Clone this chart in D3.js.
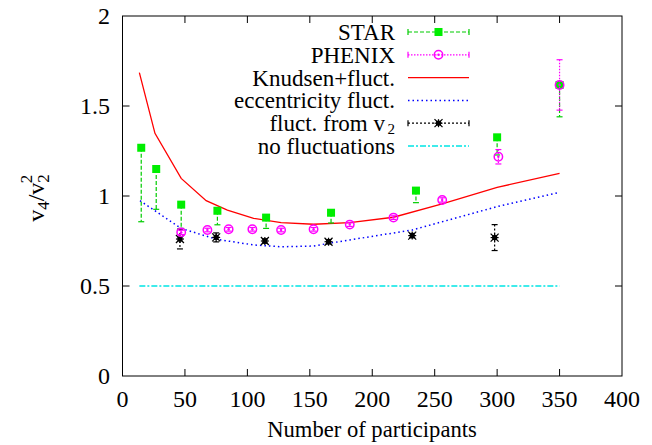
<!DOCTYPE html>
<html><head><meta charset="utf-8"><script src="https://cdn.jsdelivr.net/npm/d3@7/dist/d3.min.js"></script></head>
<body style="margin:0">
<script>
// STAR: value and lower end of the (one sided) error bar
const starN   = [15, 27, 47, 76, 115, 167, 235, 300, 350];
const starV   = [1.268, 1.15, 0.952, 0.918, 0.88, 0.907, 1.03, 1.326, 1.617];
const starLow = [0.857, 0.926, 0.82, 0.84, 0.82, 0.85, 0.963, 1.228, 1.44];

// PHENIX
const phenixN   = [47, 68, 85, 104, 127, 153, 182, 217, 256, 301, 350];
const phenixV   = [0.798, 0.811, 0.815, 0.815, 0.811, 0.815, 0.841, 0.88, 0.978, 1.218, 1.617];
const phenixErr = [0.012, 0.01, 0.01, 0.01, 0.01, 0.01, 0.01, 0.01, 0.012, 0.04, 0.14];

// fluct. from v2
const fromV2N   = [46, 75, 114, 165, 232, 298];
const fromV2V   = [0.761, 0.77, 0.75, 0.746, 0.78, 0.769];
const fromV2Err = [0.055, 0.025, 0.012, 0.012, 0.012, 0.072];

// Knudsen+fluct.
const knudsenN = [13.5, 26, 47, 67, 84, 105, 127, 153, 182, 217, 256, 300, 350];
const knudsenV = [1.685, 1.348, 1.098, 0.974, 0.922, 0.876, 0.852, 0.843, 0.852, 0.882, 0.956, 1.048, 1.126];

// eccentricity fluct.
const eccN = [14, 47, 75, 105, 127, 153, 165, 182, 232, 256, 300, 350];
const eccV = [0.974, 0.82, 0.76, 0.728, 0.718, 0.722, 0.737, 0.756, 0.811, 0.857, 0.941, 1.02];

// no fluctuations
const noFlN = [13.5, 350];
const noFlV = [0.5, 0.5];

const xTicks = [0, 50, 100, 150, 200, 250, 300, 350, 400];
const yTicks = [0, 0.5, 1, 1.5, 2];

const W = 652, H = 445;
const x = d3.scaleLinear().domain([0, 400]).range([122.5, 622]);
const y = d3.scaleLinear().domain([0, 2]).range([376, 16]);

const svg = d3.select("body").append("svg").attr("width", W).attr("height", H);

// frame
svg.append("rect")
  .attr("x", x(0)).attr("y", y(2))
  .attr("width", x(400) - x(0)).attr("height", y(0) - y(2))
  .attr("fill", "none").attr("stroke", "#000").attr("stroke-width", 1);

// ticks (inside, mirrored)
const tl = 7;
xTicks.forEach(t => {
  if (t === 0 || t === 400) return;
  svg.append("line").attr("x1", x(t)).attr("x2", x(t)).attr("y1", y(0)).attr("y2", y(0) - tl).attr("stroke", "#000");
  svg.append("line").attr("x1", x(t)).attr("x2", x(t)).attr("y1", y(2)).attr("y2", y(2) + tl).attr("stroke", "#000");
});
yTicks.forEach(t => {
  if (t === 0 || t === 2) return;
  svg.append("line").attr("x1", x(0)).attr("x2", x(0) + tl).attr("y1", y(t)).attr("y2", y(t)).attr("stroke", "#000");
  svg.append("line").attr("x1", x(400)).attr("x2", x(400) - tl).attr("y1", y(t)).attr("y2", y(t)).attr("stroke", "#000");
});

svg.selectAll(".xl").data(xTicks).join("text")
  .attr("x", d => x(d)).attr("y", 407)
  .attr("text-anchor", "middle").attr("font-size", 24)
  .text(d => d);
svg.selectAll(".yl").data(yTicks).join("text")
  .attr("x", 110).attr("y", d => y(d) + 8)
  .attr("text-anchor", "end").attr("font-size", 24)
  .text(d => d);

svg.append("text").attr("x", 372).attr("y", 437)
  .attr("text-anchor", "middle").attr("font-size", 22.6)
  .text("Number of participants");

const yl = svg.append("text").attr("font-size", 24)
  .attr("transform", "translate(44,198) rotate(-90)").attr("text-anchor", "middle");
yl.append("tspan").text("v");
yl.append("tspan").attr("font-size", 17).attr("dy", 5).text("4");
yl.append("tspan").attr("dy", -5).text("/v");
yl.append("tspan").attr("font-size", 17).attr("dy", 5).text("2");
yl.append("tspan").attr("font-size", 17).attr("dx", -9).attr("dy", -17).text("2");

// curves
const line = d3.line().x(d => x(d[0])).y(d => y(d[1]));
const zip = (a, b) => a.map((v, i) => [v, b[i]]);

svg.append("path").datum(zip(noFlN, noFlV)).attr("d", line)
  .attr("fill", "none").attr("stroke", "#00e5e5").attr("stroke-width", 1.3)
  .attr("stroke-dasharray", "6,2,2,2");
svg.append("path").datum(zip(eccN, eccV)).attr("d", line)
  .attr("fill", "none").attr("stroke", "#0000ff").attr("stroke-width", 1.5)
  .attr("stroke-dasharray", "1.5,3");
svg.append("path").datum(zip(knudsenN, knudsenV)).attr("d", line)
  .attr("fill", "none").attr("stroke", "#ff0000").attr("stroke-width", 1.3);

const cap = 3;
function errBar(g, px, y1, y2, color, dash) {
  g.append("line").attr("x1", px).attr("x2", px).attr("y1", y1).attr("y2", y2)
    .attr("stroke", color).attr("stroke-width", 1.2).attr("stroke-dasharray", dash);
  [y1, y2].forEach(yy => g.append("line").attr("x1", px - cap).attr("x2", px + cap)
    .attr("y1", yy).attr("y2", yy).attr("stroke", color).attr("stroke-width", 1.2));
}

function drawSquare(g, px, py) {
  g.append("rect").attr("x", px - 4).attr("y", py - 4).attr("width", 8).attr("height", 8).attr("fill", "#00ee00");
}
function drawCircle(g, px, py) {
  g.append("circle").attr("cx", px).attr("cy", py).attr("r", 4.2)
    .attr("fill", "none").attr("stroke", "#ff00ff").attr("stroke-width", 1.5);
  g.append("circle").attr("cx", px).attr("cy", py).attr("r", 1.2).attr("fill", "#ff00ff");
}
function drawStar(g, px, py) {
  const s = 4;
  g.append("rect").attr("x", px - 2.5).attr("y", py - 2.5).attr("width", 5).attr("height", 5).attr("fill", "#000");
  [[-s, -s, s, s], [-s, s, s, -s], [-s, 0, s, 0], [0, -s, 0, s]].forEach(p =>
    g.append("line").attr("x1", px + p[0]).attr("y1", py + p[1]).attr("x2", px + p[2]).attr("y2", py + p[3])
      .attr("stroke", "#000").attr("stroke-width", 1.2));
}

const gV2 = svg.append("g");
fromV2N.forEach((n, i) => {
  errBar(gV2, x(n), y(fromV2V[i] + fromV2Err[i]), y(fromV2V[i] - fromV2Err[i]), "#000", "2,2");
  drawStar(gV2, x(n), y(fromV2V[i]));
});

const gStar = svg.append("g");
starN.forEach((n, i) => {
  errBar(gStar, x(n), y(starV[i]), y(starLow[i]), "#00cc00", "4,2");
  drawSquare(gStar, x(n), y(starV[i]));
});

const gPh = svg.append("g");
phenixN.forEach((n, i) => {
  errBar(gPh, x(n), y(phenixV[i] + phenixErr[i]), y(phenixV[i] - phenixErr[i]), "#ff00ff", "1.5,1.5");
  drawCircle(gPh, x(n), y(phenixV[i]));
});

// legend
const legendLabels = ["STAR", "PHENIX", "Knudsen+fluct.", "eccentricity fluct.", "fluct. from v", "no fluctuations"];
const lx0 = 408, lx1 = 469, ltx = 395;
const ly = i => 32 + i * 22.8;
const lg = svg.append("g");
legendLabels.forEach((t, i) => {
  const tx = lg.append("text").attr("x", ltx).attr("y", ly(i) + 8).attr("text-anchor", "end").attr("font-size", 23);
  if (i === 4) {
    tx.attr("x", ltx - 10).text(t);
    lg.append("text").attr("x", ltx).attr("y", ly(i) + 10.5).attr("text-anchor", "end").attr("font-size", 15).text("2");
  } else {
    tx.text(t);
  }
});
function legendErr(i, color, dash) {
  const yy = ly(i);
  lg.append("line").attr("x1", lx0).attr("x2", lx1).attr("y1", yy).attr("y2", yy)
    .attr("stroke", color).attr("stroke-width", 1.2).attr("stroke-dasharray", dash);
  [lx0, lx1].forEach(xx => lg.append("line").attr("x1", xx).attr("x2", xx).attr("y1", yy - cap).attr("y2", yy + cap)
    .attr("stroke", color).attr("stroke-width", 1.2));
}
legendErr(0, "#00cc00", "4,2");
drawSquare(lg, (lx0 + lx1) / 2, ly(0));
legendErr(1, "#ff00ff", "1.5,1.5");
drawCircle(lg, (lx0 + lx1) / 2, ly(1));
lg.append("line").attr("x1", lx0).attr("x2", lx1).attr("y1", ly(2)).attr("y2", ly(2))
  .attr("stroke", "#ff0000").attr("stroke-width", 1.3);
lg.append("line").attr("x1", lx0).attr("x2", lx1).attr("y1", ly(3)).attr("y2", ly(3))
  .attr("stroke", "#0000ff").attr("stroke-width", 1.5).attr("stroke-dasharray", "1.5,3");
legendErr(4, "#000", "2,2");
drawStar(lg, (lx0 + lx1) / 2, ly(4));
lg.append("line").attr("x1", lx0).attr("x2", lx1).attr("y1", ly(5)).attr("y2", ly(5))
  .attr("stroke", "#00e5e5").attr("stroke-width", 1.3).attr("stroke-dasharray", "6,2,2,2");

// serif font on every text
svg.selectAll("text").style("font-family", "\"Liberation Serif\"");
</script>
</body>
</html>
